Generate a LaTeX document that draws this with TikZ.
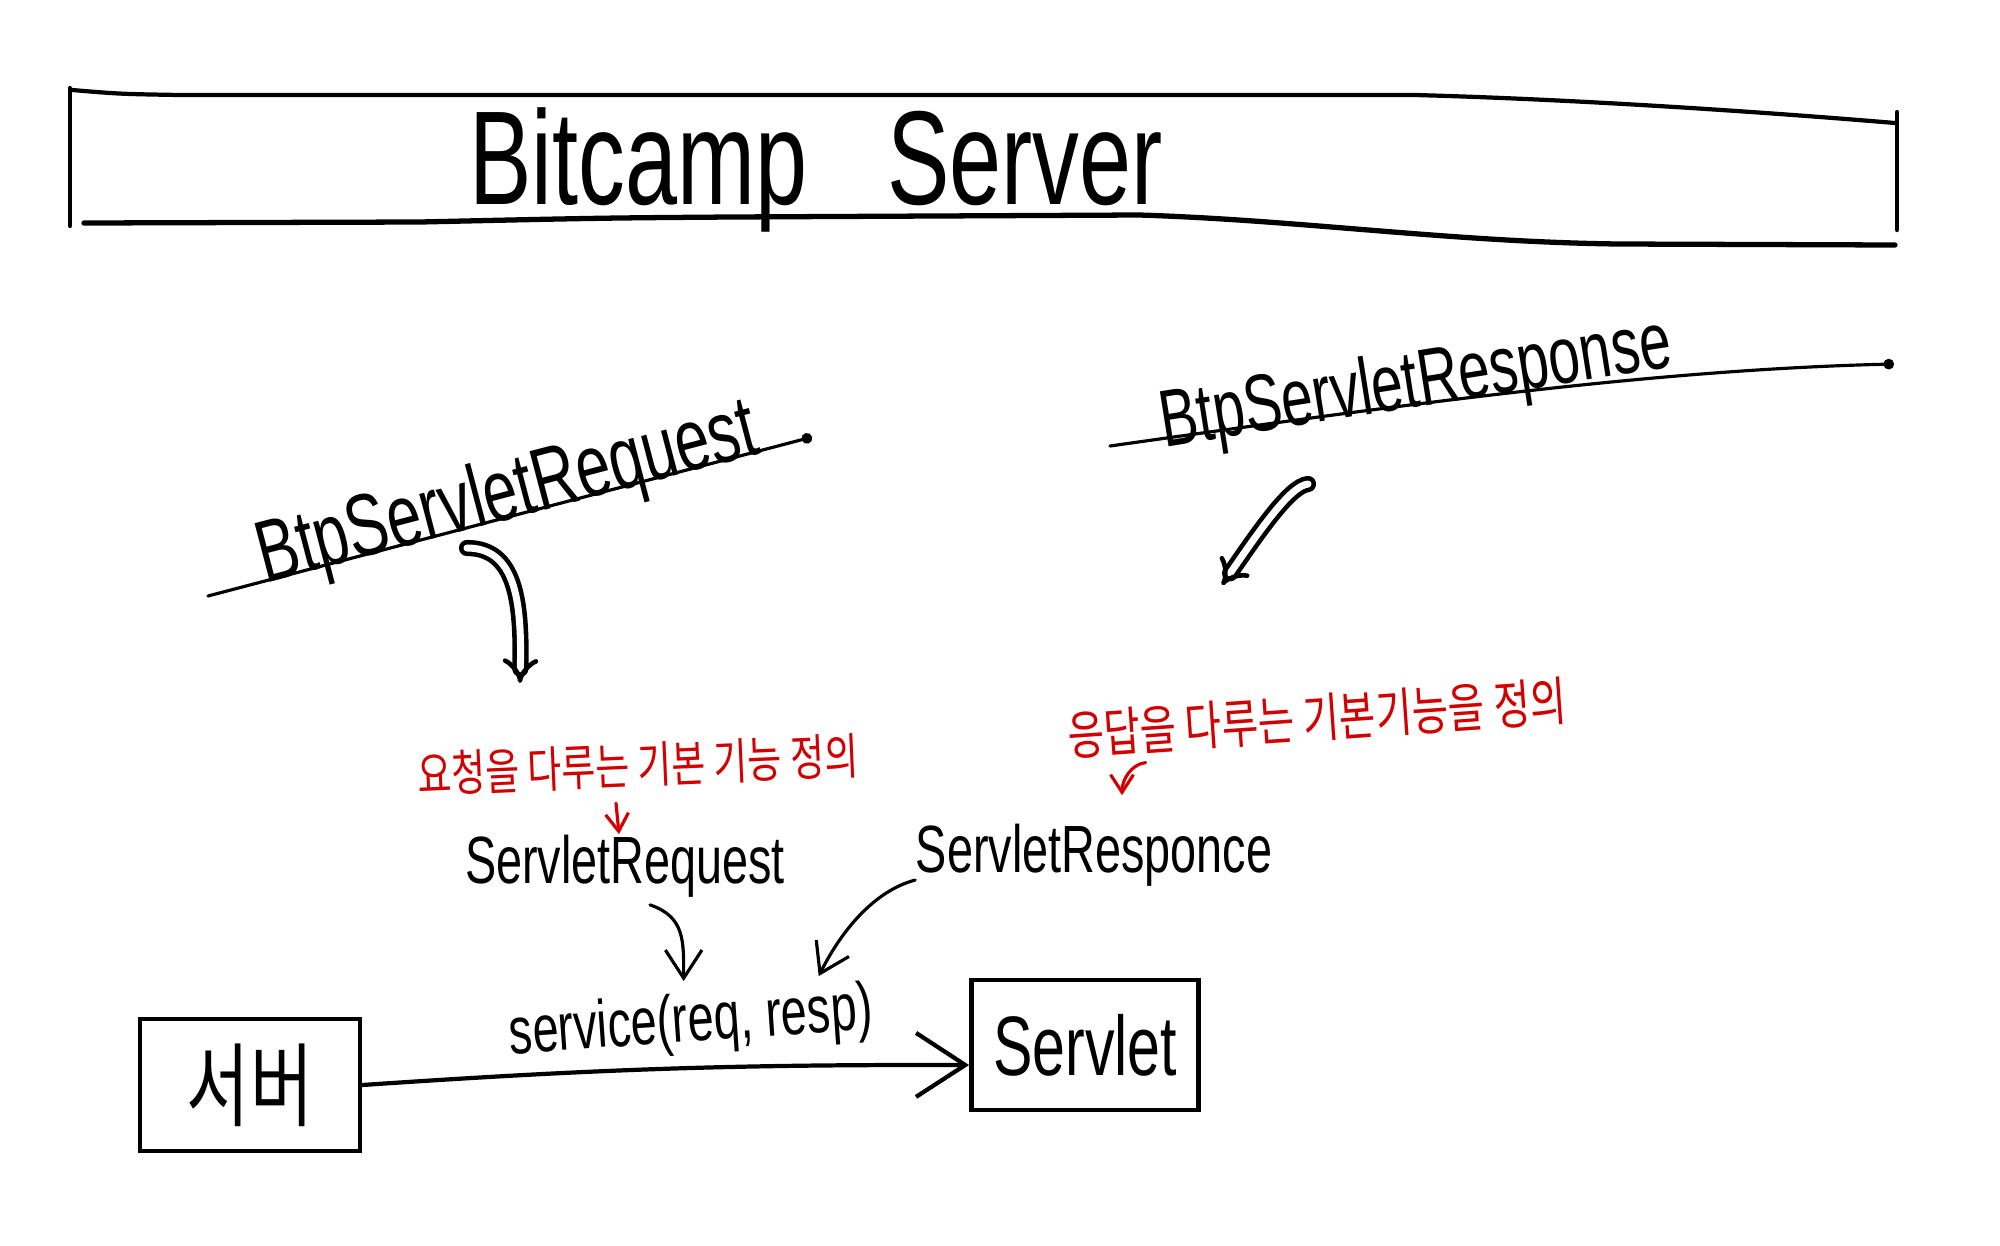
\documentclass[tikz,border=0pt]{standalone}
\usepackage{fontspec}
\usetikzlibrary{arrows.meta,positioning}
\newfontfamily\hand[FakeStretch=0.7]{Liberation Sans}
\newfontfamily\kr[FakeStretch=0.75]{Noto Sans CJK KR}
\definecolor{pen}{RGB}{210,0,0}

\begin{document}
\begin{tikzpicture}[x=0.01cm,y=-0.01cm,
  ink/.style={line width=1.2pt,line cap=round,line join=round},
  thin ink/.style={line width=0.9pt,line cap=round,line join=round},
  hw/.style={font=\hand\fontsize{#1}{#1}\selectfont,inner sep=0pt},
  note/.style={text=pen,font=\kr\fontsize{#1}{#1}\selectfont,inner sep=0pt},
  box/.style n args={2}{draw,line width=1.3pt,minimum width=#1,minimum height=#2,inner sep=0pt},
  dblarrow/.style={line width=1.3pt,double distance=2pt,-{Implies},line cap=round},
  barb/.style={-{Straight Barb[length=#1,width=1.3*#1]}}]
\fill[white] (0,0) rectangle (2000,1245);
\useasboundingbox (0,0) rectangle (2000,1245);
% banner
\draw[ink] (72,90) .. controls (120,94) .. (180,95) -- (1415,95) .. controls (1600,100) and (1800,115) .. (1895,123);
\draw[ink,line width=1.5pt] (84,223) -- (420,222) .. controls (600,218) .. (731,217) -- (1139,215)
   .. controls (1300,220) and (1450,242) .. (1619,244) -- (1895,245);
\draw[ink] (70,88) -- (70,226);
\draw[ink] (1897,112) -- (1897,230);
\node[hw=38] (title) at (816,170) {Bitcamp\hspace{0.6em}Server};
% sub classes
\node[hw=25,rotate=14.7] (btpreq) at (508,496) {BtpServletRequest};
\draw[thin ink,-{Circle[length=3pt]}] (208,596) -- (812,437);
\node[hw=23,rotate=9] (btpresp) at (1416,386) {BtpServletResponse};
\draw[thin ink,-{Circle[length=3pt]}] (1110,446) .. controls (1400,405) and (1650,370) .. (1894,364);
\coordinate (reqfrom) at (467,548);
\coordinate (reqto) at (520,683);
\coordinate (respfrom) at (1308,484);
\coordinate (respto) at (1222,585);
\draw[dblarrow] (reqfrom) .. controls (515,548) and (522,600) .. (reqto);
\draw[dblarrow] (respfrom) .. controls (1290,486) and (1260,530) .. (respto);
% interfaces
\node[note=14,rotate=2.5] (reqnote) at (638,765) {요청을 다루는 기본 기능 정의};
\node[note=15,rotate=4] (respnote) at (1317,718) {응답을 다루는 기본기능을 정의};
\node[hw=19] (servreq) at (625,866) {ServletRequest};
\node[hw=19] (servresp) at (1094,855) {ServletResponce};
\draw[thin ink,pen,barb=5pt] ([xshift=-0.23cm,yshift=-0.15cm]reqnote.south) -- ([xshift=-0.06cm]servreq.north);
\draw[thin ink,pen,barb=5pt] ([xshift=-1.73cm,yshift=-0.2cm]respnote.south) .. controls +(-15,2) and +(0,-15) .. ([xshift=0.28cm,yshift=0.28cm]servresp.north);
% call
\node[box={2.2cm}{1.32cm},font=\kr\fontsize{26}{26}\selectfont] (server) at (250,1085) {서버};
\node[box={2.27cm}{1.3cm},hw=24] (servlet) at (1085,1045) {Servlet};
\draw[ink,barb=14pt] (server.east) to[bend left=2]
   node[pos=0.55,above=3pt,hw=19,rotate=4] (call) {service(req, resp)} ([yshift=-0.2cm]servlet.west);
\draw[thin ink,barb=8pt] ([xshift=0.25cm,yshift=-0.07cm]servreq.south) .. controls +(35,12) and +(0,-40) .. ([xshift=-0.05cm,yshift=0.1cm]call.north);
\draw[thin ink,barb=8pt] ([yshift=-0.25cm]servresp.west) .. controls +(-38,10) and +(25,-50) .. ([xshift=1.3cm,yshift=0.15cm]call.north);
\end{tikzpicture}
\end{document}
